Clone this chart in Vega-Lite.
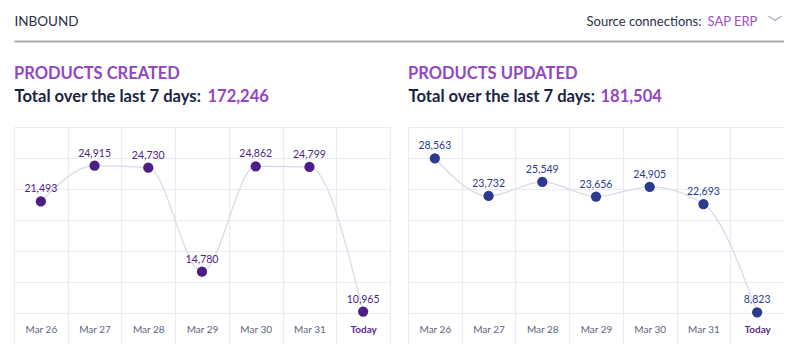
{
  "$schema": "https://vega.github.io/schema/vega-lite/v6.json",
  "padding": {"left": 14, "top": 0, "right": 0, "bottom": 0},
  "background": "#ffffff",
  "config": {
    "view": {"stroke": null},
    "font": "Lato"
  },
  "datasets": {
    "created": [
      {"day": "Mar 26", "value": 21493},
      {"day": "Mar 27", "value": 24915},
      {"day": "Mar 28", "value": 24730},
      {"day": "Mar 29", "value": 14780},
      {"day": "Mar 30", "value": 24862},
      {"day": "Mar 31", "value": 24799},
      {"day": "Today", "value": 10965}
    ],
    "updated": [
      {"day": "Mar 26", "value": 28563},
      {"day": "Mar 27", "value": 23732},
      {"day": "Mar 28", "value": 25549},
      {"day": "Mar 29", "value": 23656},
      {"day": "Mar 30", "value": 24905},
      {"day": "Mar 31", "value": 22693},
      {"day": "Today", "value": 8823}
    ]
  },
  "spacing": 24,
  "vconcat": [
    {
      "width": 770,
      "height": 41,
      "data": {"values": [{}]},
      "mark": {"type": "point", "opacity": 0, "size": 1},
      "encoding": {
        "x": {
          "datum": 385,
          "type": "quantitative",
          "scale": {"domain": [0, 770], "nice": false, "zero": false},
          "axis": {
            "orient": "bottom",
            "domain": true,
            "domainColor": "#a7a7ae",
            "domainWidth": 2,
            "ticks": false,
            "grid": false,
            "values": [0, 753],
            "labelExpr": "datum.value == 0 ? 'INBOUND' : '﹀'",
            "labelAlign": "left",
            "labelBaseline": "alphabetic",
            "labelPadding": {"condition": {"test": "datum.value > 100", "value": -14}, "value": -16},
            "labelOverlap": false,
            "labelBound": false,
            "labelFlush": false,
            "labelFont": {"condition": {"test": "datum.value > 100", "value": "Noto Sans CJK SC"}, "value": "Lato"},
            "labelFontSize": {"condition": {"test": "datum.value > 100", "value": 15}, "value": 13.5},
            "labelColor": {"condition": {"test": "datum.value > 100", "value": "#a9a9bf"}, "value": "#2b2f48"},
            "title": "Source connections:",
            "titleFont": "Lato",
            "titleFontSize": 13,
            "titleFontWeight": "normal",
            "titleColor": "#2b3050",
            "titleAlign": "left",
            "titleBaseline": "alphabetic",
            "titleX": 572,
            "titleY": -16
          }
        },
        "y": {
          "datum": 0.5,
          "type": "quantitative",
          "scale": {"domain": [0, 1]},
          "axis": {
            "domain": false,
            "ticks": false,
            "labels": false,
            "grid": false,
            "title": "SAP ERP",
            "titleFont": "Lato",
            "titleFontSize": 13,
            "titleFontWeight": "normal",
            "titleColor": "#9a4fcb",
            "titleAngle": 0,
            "titleAlign": "left",
            "titleBaseline": "alphabetic",
            "titleX": 693,
            "titleY": 25
          }
        }
      }
    },
    {
      "spacing": 18,
      "hconcat": [
        {
          "width": 376,
          "height": 217,
          "title": {
            "text": "PRODUCTS CREATED",
            "anchor": "start",
            "frame": "group",
            "font": "Lato",
            "fontSize": 16.5,
            "fontWeight": "bold",
            "color": "#9146c3",
            "offset": 6
          },
          "data": {"name": "created"},
          "encoding": {
            "x": {
              "field": "day",
              "type": "ordinal",
              "sort": null,
              "scale": {"paddingInner": 0, "paddingOuter": 0},
              "axis": {
                "domain": false,
                "ticks": false,
                "grid": true,
                "tickBand": "extent",
                "gridColor": "#ebebf1",
                "gridWidth": 1.2,
                "labelAngle": 0,
                "labelBaseline": "middle",
                "labelPadding": -15,
                "labelFont": "Lato",
                "labelFontSize": 10,
                "labelColor": {"condition": {"test": "datum.value == 'Today'", "value": "#5b2a91"}, "value": "#60657e"},
                "labelFontWeight": {"condition": {"test": "datum.value == 'Today'", "value": "bold"}, "value": "normal"},
                "title": "Total over the last 7 days:",
                "titleFont": "Lato",
                "titleFontSize": 16.6,
                "titleFontWeight": "bold",
                "titleColor": "#1b2440",
                "titleAlign": "left",
                "titleBaseline": "alphabetic",
                "titleX": 0,
                "titleY": -243
              }
            },
            "y": {
              "field": "value",
              "type": "quantitative",
              "scale": {"domain": [7856, 28618], "nice": false, "zero": false},
              "axis": {
                "domain": false,
                "ticks": false,
                "labels": false,
                "grid": true,
                "gridColor": "#ebebf1",
                "gridWidth": 1.2,
                "values": [7856, 10822, 13788, 16754, 19720, 22686, 25652, 28618],
                "title": "172,246",
                "titleFont": "Lato",
                "titleFontSize": 16.5,
                "titleFontWeight": "bold",
                "titleColor": "#9146c3",
                "titleAngle": 0,
                "titleAlign": "left",
                "titleBaseline": "alphabetic",
                "titleX": 193,
                "titleY": -26
              }
            }
          },
          "layer": [
            {"mark": {"type": "line", "interpolate": "monotone", "color": "#dcd9ea", "strokeWidth": 1.3}},
            {"mark": {"type": "point", "filled": true, "size": 105, "opacity": 1, "color": "#4b1f85"}},
            {
              "mark": {"type": "text", "baseline": "alphabetic", "dy": -9, "fontSize": 10.5, "font": "Lato", "color": "#4b1f85"},
              "encoding": {"text": {"field": "value", "type": "quantitative", "format": ","}}
            }
          ]
        },
        {
          "width": 376,
          "height": 217,
          "title": {
            "text": "PRODUCTS UPDATED",
            "anchor": "start",
            "frame": "group",
            "font": "Lato",
            "fontSize": 16.5,
            "fontWeight": "bold",
            "color": "#9146c3",
            "offset": 6
          },
          "data": {"name": "updated"},
          "encoding": {
            "x": {
              "field": "day",
              "type": "ordinal",
              "sort": null,
              "scale": {"paddingInner": 0, "paddingOuter": 0},
              "axis": {
                "domain": false,
                "ticks": false,
                "grid": true,
                "tickBand": "extent",
                "gridColor": "#ebebf1",
                "gridWidth": 1.2,
                "labelAngle": 0,
                "labelBaseline": "middle",
                "labelPadding": -15,
                "labelFont": "Lato",
                "labelFontSize": 10,
                "labelColor": {"condition": {"test": "datum.value == 'Today'", "value": "#5b2a91"}, "value": "#60657e"},
                "labelFontWeight": {"condition": {"test": "datum.value == 'Today'", "value": "bold"}, "value": "normal"},
                "title": "Total over the last 7 days:",
                "titleFont": "Lato",
                "titleFontSize": 16.6,
                "titleFontWeight": "bold",
                "titleColor": "#1b2440",
                "titleAlign": "left",
                "titleBaseline": "alphabetic",
                "titleX": 0,
                "titleY": -243
              }
            },
            "y": {
              "field": "value",
              "type": "quantitative",
              "scale": {"domain": [4760, 32575], "nice": false, "zero": false},
              "axis": {
                "domain": false,
                "ticks": false,
                "labels": false,
                "grid": true,
                "gridColor": "#ebebf1",
                "gridWidth": 1.2,
                "values": [4760, 8734, 12707, 16681, 20654, 24628, 28601, 32575],
                "title": "181,504",
                "titleFont": "Lato",
                "titleFontSize": 16.5,
                "titleFontWeight": "bold",
                "titleColor": "#9146c3",
                "titleAngle": 0,
                "titleAlign": "left",
                "titleBaseline": "alphabetic",
                "titleX": 192,
                "titleY": -26
              }
            }
          },
          "layer": [
            {"mark": {"type": "line", "interpolate": "monotone", "color": "#dcd9ea", "strokeWidth": 1.3}},
            {"mark": {"type": "point", "filled": true, "size": 105, "opacity": 1, "color": "#2b3a8c"}},
            {
              "mark": {"type": "text", "baseline": "alphabetic", "dy": -9, "fontSize": 10.5, "font": "Lato", "color": "#2b3a8c"},
              "encoding": {"text": {"field": "value", "type": "quantitative", "format": ","}}
            }
          ]
        }
      ]
    }
  ]
}
